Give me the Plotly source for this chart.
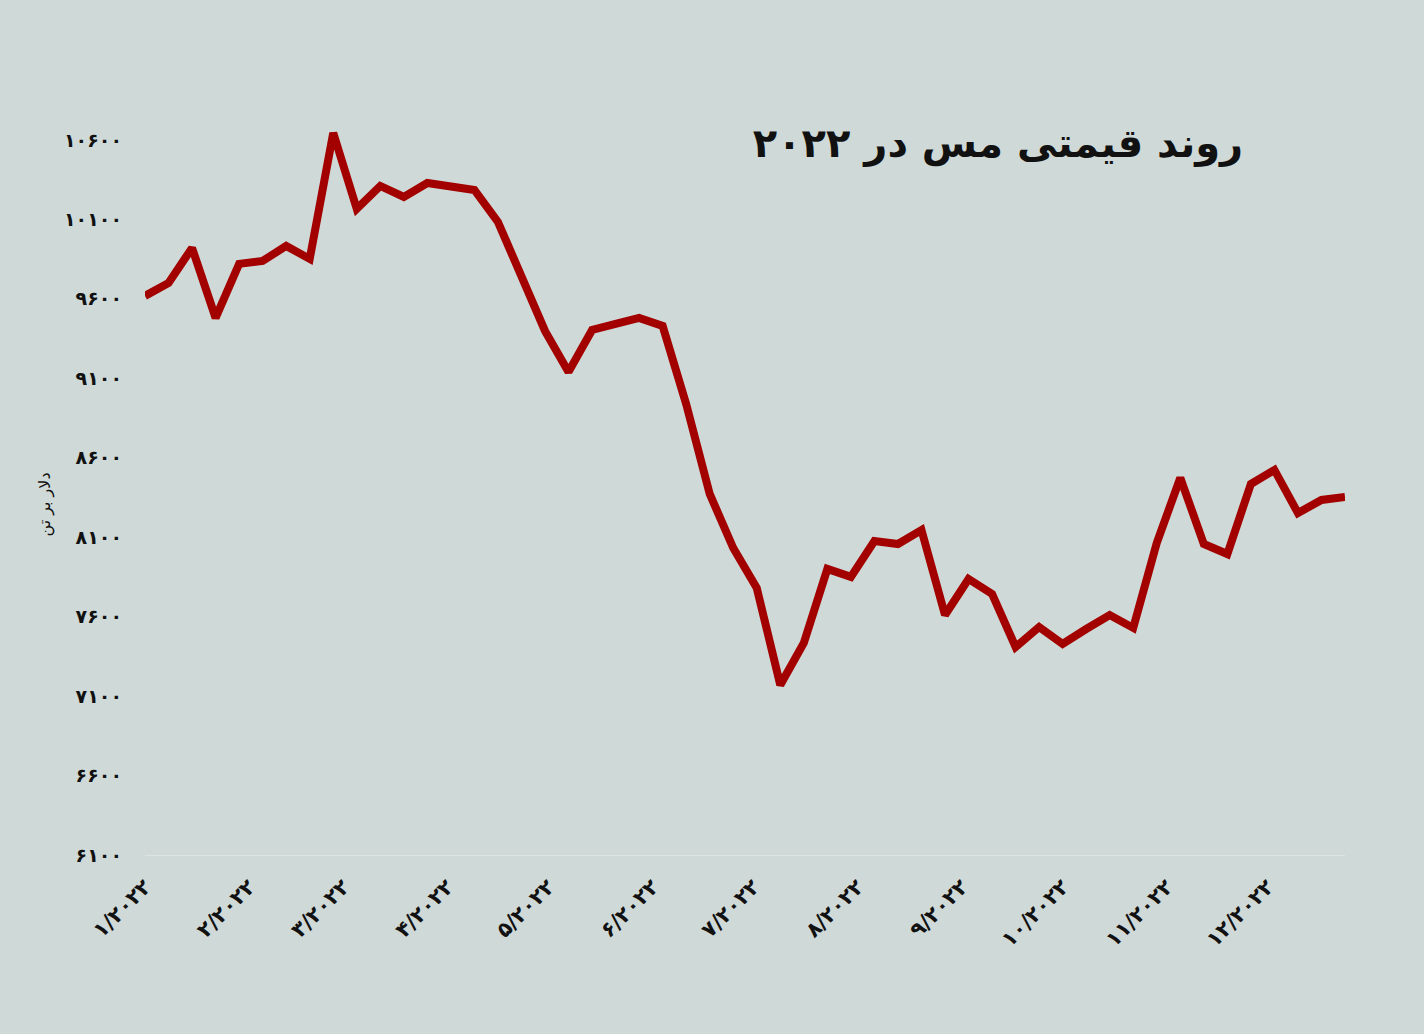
import pandas as pd
import plotly.graph_objects as go

# weekly copper price, USD per tonne
dates = pd.date_range("2022-01-01", periods=52, freq="7D")
prices = [9618, 9700, 9920, 9480, 9820, 9838, 9933, 9851, 10644, 10166,
          10310, 10241, 10329, 10304, 10285, 10084, 9750, 9398, 9140, 9404,
          9442, 9480, 9429, 8938, 8372, 8032, 7780, 7170, 7434, 7900,
          7850, 8076, 8057, 8145, 7610, 7837, 7743, 7409, 7535, 7428,
          7522, 7610, 7529, 8064, 8473, 8057, 7994, 8435, 8523, 8252,
          8334, 8353]

fa = str.maketrans("0123456789", "۰۱۲۳۴۵۶۷۸۹")
month_ticks = [f"2022-{m:02d}-01" for m in range(1, 13)]
month_text = [f"{m}/2022".translate(fa) for m in range(1, 13)]
y_ticks = list(range(6100, 10601, 500))
y_text = [str(v).translate(fa) for v in y_ticks]

fig = go.Figure(go.Scatter(
    x=dates, y=prices, mode="lines",
    line=dict(color="#a30000", width=8),
    cliponaxis=False,
))

fig.update_layout(
    width=1424, height=1034,
    paper_bgcolor="#cfd9d7", plot_bgcolor="#cfd9d7",
    margin=dict(l=145, r=79, t=124, b=179),
    showlegend=False,
    font=dict(family="DejaVu Sans", color="#111"),
    title=dict(text="<b>روند قیمتی مس در ۲۰۲۲</b>", x=0.873, xanchor="right",
               y=0.862, yanchor="middle", font=dict(size=40, color="#111")),
)
fig.update_xaxes(
    range=["2022-01-01", "2022-12-24"], tickvals=month_ticks, ticktext=month_text,
    tickangle=-45, tickfont=dict(size=21, family="DejaVu Sans", weight="bold"),
    showgrid=False, showline=True, linecolor="#dde3e2", linewidth=1,
    zeroline=False, ticks="", ticklabelstandoff=10,
)
fig.update_yaxes(
    range=[6100, 10700], tickvals=y_ticks, ticktext=y_text,
    tickfont=dict(size=19, family="DejaVu Sans", weight="bold"),
    showgrid=False, zeroline=False, ticks="", ticklabelstandoff=22,
)
fig.add_annotation(text="دلار بر تن", x=-0.083, xref="paper", xanchor="center",
                   y=0.48, yref="paper", yanchor="middle", textangle=-90,
                   showarrow=False, font=dict(size=16, color="#111"))

fig.write_html("out.html", config={"displayModeBar": False},
               post_script="document.body.style.margin='0';")
